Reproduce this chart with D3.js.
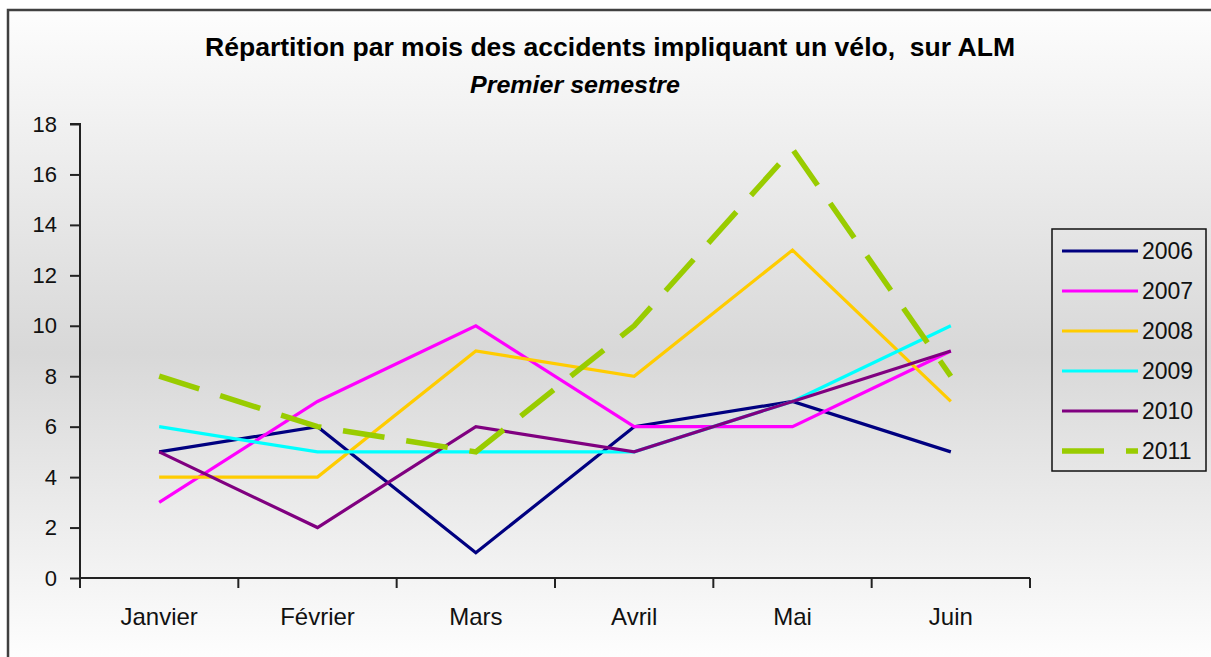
<!DOCTYPE html>
<html>
<head>
<meta charset="utf-8">
<script src="https://cdn.jsdelivr.net/npm/d3@7"></script>
<style>
  body { margin: 0; background: #ffffff; }
  svg { display: block; font-family: "Liberation Sans", Arial, sans-serif; }
</style>
</head>
<body>
<div id="chart"></div>
<script>
// months of the first semester
const months = ["Janvier", "Février", "Mars", "Avril", "Mai", "Juin"];
const yTicks = [0, 2, 4, 6, 8, 10, 12, 14, 16, 18];

// accidents per month, one list per year
const acc2006 = [5, 6, 1, 6, 7, 5];
const acc2007 = [3, 7, 10, 6, 6, 9];
const acc2008 = [4, 4, 9, 8, 13, 7];
const acc2009 = [6, 5, 5, 5, 7, 10];
const acc2010 = [5, 2, 6, 5, 7, 9];
const acc2011 = [8, 6, 5, 10, 17, 8];

const years = ["2006", "2007", "2008", "2009", "2010", "2011"];
const colors = ["#000080", "#ff00ff", "#ffcc00", "#00ffff", "#800080", "#99cc00"];

function main(){
    let width = 1211;
    let height = 657;

    let svg = d3.select("#chart").append("svg")
        .attr("width", width)
        .attr("height", height);

    // grey gradient background of the chart area
    let grad = svg.append("defs").append("linearGradient")
        .attr("id", "bg").attr("x1", 0).attr("y1", 0).attr("x2", 0).attr("y2", 1);
    grad.append("stop").attr("offset", "0%").attr("stop-color", "#fdfdfd");
    grad.append("stop").attr("offset", "52%").attr("stop-color", "#d8d8d8");
    grad.append("stop").attr("offset", "100%").attr("stop-color", "#ffffff");

    svg.append("rect")
        .attr("x", 8).attr("y", 10)
        .attr("width", 1220).attr("height", 660)
        .attr("fill", "url(#bg)")
        .attr("stroke", "#404040")
        .attr("stroke-width", 2.5);

    // scales
    let x = d3.scaleBand().domain(months).range([80, 1030]);
    let y = d3.scaleLinear().domain([0, 18]).range([578, 124]);

    // title (the original font is narrow, so squeeze it to its width)
    svg.append("text")
        .attr("x", 610).attr("y", 56)
        .attr("text-anchor", "middle")
        .attr("font-size", "25px").attr("font-weight", "bold")
        .attr("textLength", 810).attr("lengthAdjust", "spacingAndGlyphs")
        .attr("fill", "#000")
        .style("white-space", "pre")
        .text("Répartition par mois des accidents impliquant un vélo,  sur ALM");
    svg.append("text")
        .attr("x", 575).attr("y", 93)
        .attr("text-anchor", "middle")
        .attr("font-size", "24px").attr("font-weight", "bold").attr("font-style", "italic")
        .attr("textLength", 210).attr("lengthAdjust", "spacingAndGlyphs")
        .attr("fill", "#000")
        .text("Premier semestre");

    // axes
    let yAxis = svg.append("g")
        .attr("transform", "translate(80,0)")
        .call(d3.axisLeft(y).tickValues(yTicks).tickSize(10).tickPadding(13));
    let xAxis = svg.append("g")
        .attr("transform", "translate(0,578)")
        .call(d3.axisBottom(x).tickSize(0).tickPadding(30));

    // category separators on the x axis
    let sepPos = months.map((m) => x(m)).concat([x.range()[1]]);
    xAxis.selectAll(".sep")
        .data(sepPos)
        .enter()
        .append("line")
            .attr("class", "sep")
            .attr("x1", (d) => d).attr("x2", (d) => d)
            .attr("y1", 0).attr("y2", 10)
            .attr("stroke", "#222").attr("stroke-width", 2);

    [yAxis, xAxis].forEach((g) => {
        g.select(".domain").attr("stroke", "#222").attr("stroke-width", 2);
        g.selectAll(".tick line").attr("stroke", "#222").attr("stroke-width", 2);
        g.selectAll(".tick text")
            .attr("font-family", "Liberation Sans, Arial, sans-serif")
            .attr("fill", "#111");
    });
    yAxis.selectAll(".tick text").attr("font-size", "22px");
    xAxis.selectAll(".tick text").attr("font-size", "24px");
    yAxis.select(".domain").attr("d", "M0,578V124H-10");
    xAxis.select(".domain").attr("d", "M80,0H1030");

    // series lines
    let series = [acc2006, acc2007, acc2008, acc2009, acc2010, acc2011];
    let line = d3.line()
        .x((d, i) => x(months[i]) + x.bandwidth() / 2)
        .y((d) => y(d));

    svg.append("g")
        .selectAll("path")
        .data(series)
        .enter()
        .append("path")
            .attr("d", (d) => line(d))
            .attr("fill", "none")
            .attr("stroke", (d, i) => colors[i])
            .attr("stroke-width", (d, i) => i === 5 ? 5.5 : 3.2)
            .attr("stroke-dasharray", (d, i) => i === 5 ? "42,22" : null)
            .attr("stroke-linejoin", "miter");

    // legend
    let legend = svg.append("g");
    legend.append("rect")
        .attr("x", 1052).attr("y", 229)
        .attr("width", 154).attr("height", 242)
        .attr("fill", "none")
        .attr("stroke", "#111").attr("stroke-width", 1.5);

    let rows = legend.selectAll("g.row")
        .data(years)
        .enter()
        .append("g")
            .attr("class", "row")
            .attr("transform", (d, i) => "translate(0," + (251 + i * 40) + ")");
    rows.append("line")
        .attr("x1", 1062).attr("x2", 1138)
        .attr("y1", 0).attr("y2", 0)
        .attr("stroke", (d, i) => colors[i])
        .attr("stroke-width", (d, i) => i === 5 ? 5.5 : 3)
        .attr("stroke-dasharray", (d, i) => i === 5 ? "42,22" : null);
    rows.append("text")
        .attr("x", 1142).attr("y", 8)
        .attr("font-size", "23px")
        .attr("fill", "#111")
        .text((d) => d);
}

window.onload = () => {
    main();
}
</script>
</body>
</html>
